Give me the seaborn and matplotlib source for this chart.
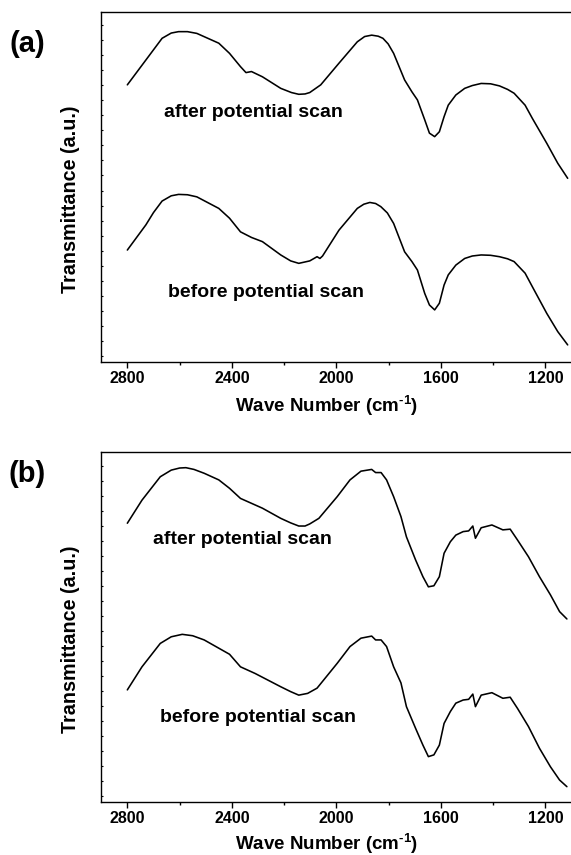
import numpy as np
import pandas as pd
import matplotlib
matplotlib.use("Agg")
import matplotlib.pyplot as plt
from matplotlib.ticker import MultipleLocator, FixedLocator, NullFormatter
import seaborn as sns

# ---------------- data ----------------
# Panel (a)
wn_a_after = [2800, 2729, 2700, 2667, 2632, 2604, 2570, 2534, 2450, 2409, 2367, 2346, 2325, 2283,
              2213, 2172, 2144, 2120, 2102, 2060, 1990, 1920, 1892, 1865, 1840, 1822, 1802, 1781,
              1739, 1711, 1690, 1662, 1644, 1624, 1606, 1588, 1572, 1543, 1509, 1480, 1446, 1410,
              1376, 1345, 1320, 1278, 1250, 1195, 1153, 1115]
t_a_after = [79.1, 86.2, 89.1, 92.4, 93.9, 94.3, 94.3, 93.8, 91.0, 88.1, 84.3, 82.6, 82.9, 81.4,
             78.1, 76.9, 76.4, 76.5, 76.9, 79.1, 85.3, 91.4, 92.9, 93.3, 93.0, 92.4, 90.8, 88.1,
             80.5, 77.1, 74.8, 69.1, 65.3, 64.3, 65.7, 70.0, 73.3, 76.2, 78.1, 78.9, 79.5, 79.4,
             78.8, 77.8, 76.7, 73.3, 69.5, 62.4, 56.7, 52.4]
wn_a_before = [2800, 2729, 2700, 2667, 2632, 2604, 2570, 2534, 2450, 2409, 2367, 2325, 2283, 2213,
               2175, 2144, 2102, 2074, 2063, 2053, 1990, 1920, 1895, 1872, 1850, 1830, 1805, 1781,
               1739, 1711, 1690, 1662, 1644, 1624, 1606, 1588, 1572, 1543, 1509, 1480, 1446, 1410,
               1376, 1345, 1320, 1278, 1250, 1195, 1153, 1115]
t_a_before = [31.9, 39.1, 42.6, 45.9, 47.4, 47.8, 47.7, 47.1, 43.8, 41.0, 37.1, 35.5, 34.3, 30.5,
              28.8, 28.1, 28.8, 30.0, 29.5, 30.2, 37.6, 43.8, 45.0, 45.5, 45.2, 44.3, 42.5, 39.5,
              31.4, 28.6, 26.2, 19.5, 16.2, 14.8, 16.7, 21.9, 24.8, 27.6, 29.5, 30.2, 30.5, 30.4,
              30.0, 29.4, 28.6, 25.3, 21.4, 13.8, 8.6, 4.8]

# Panel (b)
wn_b_after = [2800, 2744, 2674, 2632, 2600, 2576, 2545, 2506, 2450, 2409, 2367, 2325, 2283, 2213,
              2175, 2144, 2120, 2102, 2067, 1997, 1948, 1906, 1865, 1850, 1829, 1808, 1781, 1753,
              1732, 1697, 1669, 1648, 1627, 1606, 1588, 1564, 1543, 1515, 1494, 1478, 1468, 1446,
              1405, 1363, 1335, 1307, 1265, 1223, 1181, 1146, 1118]
t_b_after = [79.7, 86.3, 93.0, 94.9, 95.5, 95.6, 95.1, 94.0, 92.1, 89.7, 86.8, 85.4, 84.0, 81.1,
             79.8, 78.9, 78.9, 79.5, 81.1, 87.3, 92.1, 94.6, 95.1, 94.2, 94.2, 92.1, 87.3, 81.6,
             75.8, 69.2, 64.4, 61.5, 61.8, 64.4, 71.1, 74.4, 76.3, 77.3, 77.5, 78.9, 75.4, 78.4,
             79.2, 77.8, 78.0, 74.9, 70.1, 64.4, 59.2, 54.4, 52.3]
wn_b_before = [2800, 2744, 2674, 2632, 2590, 2550, 2506, 2409, 2367, 2311, 2213, 2175, 2144, 2110,
               2074, 1997, 1948, 1906, 1865, 1850, 1829, 1808, 1781, 1753, 1732, 1697, 1669, 1648,
               1627, 1606, 1588, 1564, 1543, 1515, 1494, 1478, 1468, 1446, 1405, 1363, 1335, 1307,
               1265, 1223, 1181, 1146, 1118]
t_b_before = [32.0, 38.6, 45.3, 47.2, 47.9, 47.5, 46.3, 42.2, 38.6, 36.7, 32.9, 31.5, 30.5, 31.0,
              32.5, 39.6, 44.4, 46.8, 47.4, 46.3, 46.3, 44.4, 38.6, 34.0, 27.2, 21.0, 16.2, 12.9,
              13.4, 16.2, 22.4, 25.8, 28.2, 29.1, 29.3, 30.8, 27.2, 30.5, 31.2, 29.6, 29.9, 26.7,
              21.5, 15.3, 10.0, 6.2, 4.3]

series_labels = ["after potential scan", "before potential scan"]
panel_labels = ["(a)", "(b)"]
x_ticks = [2800, 2400, 2000, 1600, 1200]
x_label_text = r"Wave Number (cm$^{\text{-}1}$)"
y_label_text = "Transmittance (a.u.)"

# ---------------- style ----------------
sns.set_style("ticks")
plt.rcParams["font.family"] = ["Liberation Sans", "DejaVu Sans"]
plt.rcParams["font.weight"] = "bold"
plt.rcParams["text.color"] = "black"
plt.rcParams["axes.labelcolor"] = "black"
plt.rcParams["xtick.color"] = "black"
plt.rcParams["ytick.color"] = "black"
plt.rcParams["axes.edgecolor"] = "black"
plt.rcParams["mathtext.fontset"] = "custom"
plt.rcParams["mathtext.rm"] = "Liberation Sans:bold"
plt.rcParams["mathtext.it"] = "Liberation Sans:bold"
plt.rcParams["mathtext.bf"] = "Liberation Sans:bold"

fig = plt.figure(figsize=(5.71, 8.55), dpi=100)
fig.patch.set_facecolor("white")

W, H = 571.0, 855.0
ax_left = 101.2 / W
ax_width = (571.6 - 101.2) / W
panels = [
    dict(top=11.7, bottom=361.7,
         after=(wn_a_after, t_a_after), before=(wn_a_before, t_a_before),
         txt_after=(2659, 71.1), txt_before=(2646, 19.9), lab_y=44, xl=-0.143),
    dict(top=452.3, bottom=801.7,
         after=(wn_b_after, t_b_after), before=(wn_b_before, t_b_before),
         txt_after=(2702, 74.9), txt_before=(2675, 24.2), lab_y=474, xl=-0.138),
]

for i, p in enumerate(panels):
    ax = fig.add_axes([ax_left, 1 - p["bottom"] / H, ax_width, (p["bottom"] - p["top"]) / H])
    df = pd.concat([
        pd.DataFrame({"wn": p["after"][0], "T": p["after"][1], "s": series_labels[0]}),
        pd.DataFrame({"wn": p["before"][0], "T": p["before"][1], "s": series_labels[1]}),
    ])
    sns.lineplot(data=df, x="wn", y="T", hue="s", units="s", estimator=None,
                 palette=["black", "black"], linewidth=1.15, legend=False, ax=ax, sort=False)

    ax.set_xlim(2900, 1100)
    ax.set_ylim(0, 100)
    ax.xaxis.set_major_locator(FixedLocator(x_ticks))
    ax.xaxis.set_minor_locator(MultipleLocator(200))
    ax.tick_params(axis="x", which="major", direction="out", length=4, width=1.0,
                   labelsize=11.5, pad=3.0, colors="black", labelcolor="black")
    ax.tick_params(axis="x", which="minor", direction="out", length=2.2, width=1.0)
    ax.set_yticks([])
    ax.yaxis.set_minor_locator(FixedLocator(np.arange(1.6, 100, 4.3)))
    ax.yaxis.set_minor_formatter(NullFormatter())
    ax.tick_params(axis="y", which="minor", direction="in", length=1.6, width=0.8)
    for lab in ax.get_xticklabels():
        lab.set_fontweight("bold")
        lab.set_color("black")

    for side in ["left", "bottom", "top"]:
        ax.spines[side].set_linewidth(1.0)
        ax.spines[side].set_color("black")
    ax.spines["right"].set_visible(False)

    ax.set_xlabel(x_label_text, fontsize=13.5, fontweight="bold", va="baseline", color="black")
    ax.xaxis.set_label_coords(0.479, p["xl"])
    ax.set_ylabel(y_label_text, fontsize=14.2, fontweight="bold", va="center", color="black")
    ax.yaxis.set_label_coords(-0.066, 0.464)

    ax.text(p["txt_after"][0], p["txt_after"][1], series_labels[0], fontsize=14,
            fontweight="bold", ha="left", va="center", color="black")
    ax.text(p["txt_before"][0], p["txt_before"][1], series_labels[1], fontsize=14,
            fontweight="bold", ha="left", va="center", color="black")

    fig.text(27.5 / W, 1 - p["lab_y"] / H, panel_labels[i], fontsize=21, fontweight="bold",
             ha="center", va="center", color="black")

fig.savefig("out.png", dpi=100, facecolor="white")
